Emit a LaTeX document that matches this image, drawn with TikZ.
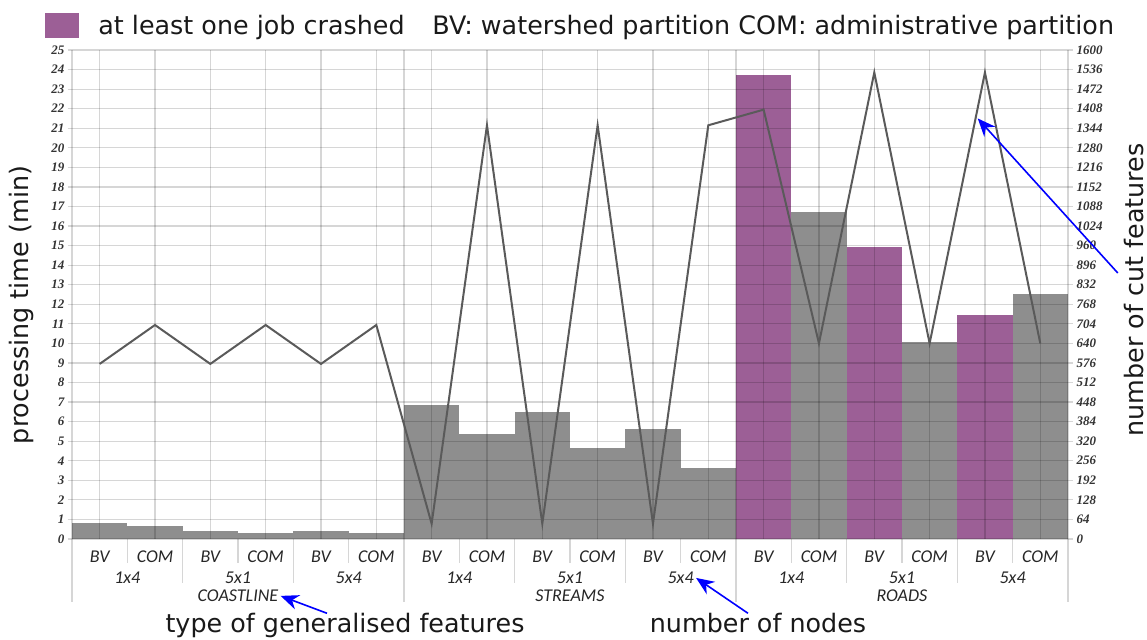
\documentclass[tikz,border=0pt]{standalone}
\usepackage{fontspec}
\setmainfont{DejaVu Sans}
\newfontfamily\tickfont{Liberation Serif}
\newfontfamily\catfont{Carlito}
\usetikzlibrary{arrows.meta}
\definecolor{crashed}{HTML}{9C5F96}
\definecolor{notcrashed}{HTML}{8E8E8E}
\definecolor{cutline}{HTML}{5A5A5A}

\begin{document}
\begin{tikzpicture}[x = 0.5pt, y = 0.5pt]
\tikzstyle{barStyle} = [fill = notcrashed]
\tikzstyle{crashStyle} = [fill = crashed]
\tikzstyle{gridStyle} = [draw = black, draw opacity = 0.16, line width = 0.6pt]
\tikzstyle{lineStyle} = [draw = cutline, line width = 1pt]
\tikzstyle{tickStyle} = [font = \tickfont\fontsize{6.5}{7}\selectfont\bfseries\itshape, text = black!80, inner sep = 0pt]
\tikzstyle{catStyle} = [font = \catfont\fontsize{9}{10}\selectfont\itshape, text = black!85, inner sep = 1pt]
\tikzstyle{titleStyle} = [font = \fontsize{12.7}{15}\selectfont, text = black!90, inner sep = 0pt]
\tikzstyle{arrowStyle} = [draw = blue, line width = 0.8pt, -{Stealth[length = 9pt, width = 7.5pt]}]
\useasboundingbox (0,0) rectangle (1147,640);
\node[crashStyle, minimum width = 17pt, minimum height = 12.5pt, inner sep = 0pt] (crashkey) at (62,614) {};
\node[titleStyle, anchor = base west] (crashtext) at (98,605) {at least one job crashed};
\node[titleStyle, anchor = base west] (partitiontext) at (432,605) {BV: watershed partition COM: administrative partition};
\begin{scope}[shift = {(36pt,50.5pt)}, x = 27.665pt, y = 9.78pt]
\fill[barStyle] (0,0) rectangle (1,0.80);
\fill[barStyle] (1,0) rectangle (2,0.68);
\fill[barStyle] (2,0) rectangle (3,0.41);
\fill[barStyle] (3,0) rectangle (4,0.32);
\fill[barStyle] (4,0) rectangle (5,0.43);
\fill[barStyle] (5,0) rectangle (6,0.32);
\fill[barStyle] (6,0) rectangle (7,6.85);
\fill[barStyle] (7,0) rectangle (8,5.37);
\fill[barStyle] (8,0) rectangle (9,6.51);
\fill[barStyle] (9,0) rectangle (10,4.67);
\fill[barStyle] (10,0) rectangle (11,5.64);
\fill[barStyle] (11,0) rectangle (12,3.61);
\fill[crashStyle] (12,0) rectangle (13,23.70);
\fill[barStyle] (13,0) rectangle (14,16.73);
\fill[crashStyle] (14,0) rectangle (15,14.91);
\fill[barStyle] (15,0) rectangle (16,10.06);
\fill[crashStyle] (16,0) rectangle (17,11.45);
\fill[barStyle] (17,0) rectangle (18,12.51);
\foreach \v in {0,...,25} \draw[gridStyle] (-0.08,\v) -- (18.1,\v);
\foreach \c in {0.5,1.5,...,17.5} \draw[gridStyle] (\c,0) -- (\c,25);
\foreach \c in {0,6,12,18} \draw[gridStyle] (\c,25) -- (\c,-3.22);
\foreach \c in {2,4,8,10,14,16} \draw[gridStyle] (\c,0) -- (\c,-2.25);
\foreach \c in {1,3,...,17} \draw[gridStyle] (\c,0) -- (\c,-1.23);
\draw[lineStyle] (0.5,8.95) -- (1.5,10.94) -- (2.5,8.95) -- (3.5,10.94) -- (4.5,8.95) -- (5.5,10.94)
  -- (6.5,0.78) -- (7.5,21.15) -- (8.5,0.78) -- (9.5,21.15) -- (10.5,0.78) -- (11.5,21.15)
  -- (12.5,21.95) -- (13.5,10.0) -- (14.5,23.85) -- (15.5,10.0) -- (16.5,23.85) -- (17.5,10.0);
\foreach \v in {0,...,25} \node[tickStyle, anchor = east] (left\v) at (-0.13,\v) {\v};
\foreach \v in {0,...,25} {
  \pgfmathtruncatemacro{\f}{64*\v}
  \node[tickStyle, anchor = west] (right\v) at (18.15,\v) {\f};
}
\foreach \c [count = \i] in {0,2,...,16} {
  \node[catStyle] (bv\i) at (\c+0.5,-0.92) {BV};
  \node[catStyle] (com\i) at (\c+1.5,-0.92) {COM};
}
\foreach \c/\t [count = \i] in {1/1x4,3/5x1,5/5x4,7/1x4,9/5x1,11/5x4,13/1x4,15/5x1,17/5x4}
  \node[catStyle] (part\i) at (\c,-1.99) {\t};
\node[catStyle] (coastline) at (3,-2.91) {COASTLINE};
\node[catStyle] (streams) at (9,-2.91) {STREAMS};
\node[catStyle] (roads) at (15,-2.91) {ROADS};
\coordinate (cutpoint) at (16.37,21.5);
\end{scope}
\node[titleStyle, rotate = 90] (timelabel) at (21,335) {processing time (min)};
\node[titleStyle, rotate = 90] (cutlabel) at (1134,350) {number of cut features};
\node[titleStyle, anchor = base] (typelabel) at (345,7) {type of generalised features};
\node[titleStyle, anchor = base] (nodeslabel) at (758,7) {number of nodes};
\draw[arrowStyle] ([xshift = -9pt]typelabel.north) -- (coastline.east);
\draw[arrowStyle] ([xshift = -5pt]nodeslabel.north) -- (part6.east);
\draw[arrowStyle] ([xshift = -3pt, yshift = 8.5pt]cutlabel.north) -- (cutpoint);
\end{tikzpicture}
\end{document}
